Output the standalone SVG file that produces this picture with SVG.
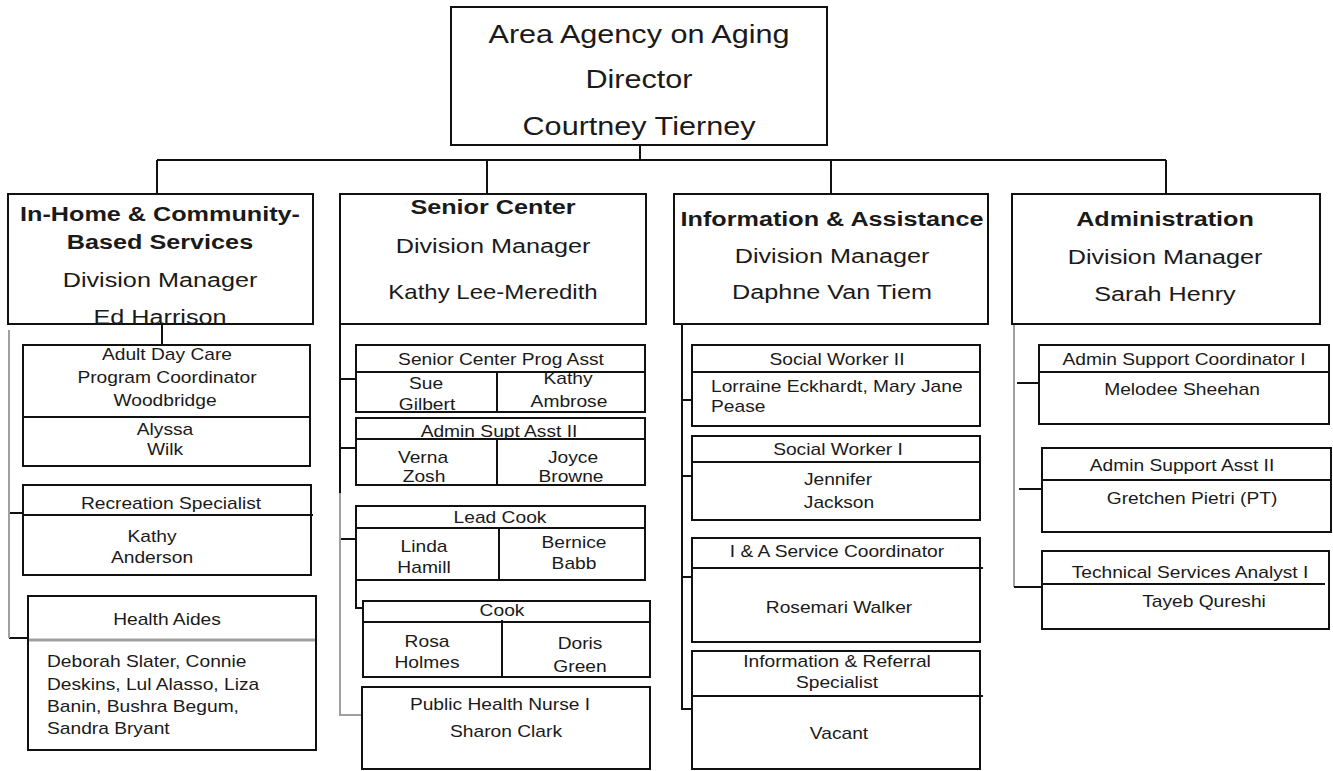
<svg xmlns="http://www.w3.org/2000/svg" width="1333" height="771" viewBox="0 0 1333 771">
<style>
.b{fill:#fff;stroke:#111;stroke-width:2}
.l{fill:none;stroke:#111;stroke-width:2}
.g{fill:none;stroke:#a0a0a0;stroke-width:2}
text{font-family:"Liberation Sans",Arial,sans-serif;font-size:16px;fill:#1a1a1a;text-anchor:middle}
.s{text-anchor:start}
.d{font-size:21px}
.k{font-size:21px;font-weight:bold}
.k20{font-size:20px}
.top{font-size:25.5px}
</style>
<rect width="1333" height="771" fill="#fff"/>
<g id="connectors">
<path class="l" d="M640 145V160M157 160H1166M157 160V194M487 160V194M831 160V194M1166 160V194"/>
<path class="l" d="M162 324V345M9 513H23M9 638H28"/>
<path class="g" d="M9 330V638"/>
<path class="l" d="M340 324V493M340 379H356M340 448H356M340 539H356M356 580V608H363"/>
<path class="g" d="M340 493V715H362"/>
<path class="l" d="M682 324V709H692M682 400H692M682 476H692M682 577H692"/>
<path class="g" d="M1014 324V587"/>
<path class="l" d="M1014 587H1042M1017 383H1039M1019 489H1042"/>
</g>
<g id="director">
<rect class="b" x="451" y="7" width="376" height="138"/>
<text class="top" transform="matrix(1.2 0 0 1 639 43)">Area Agency on Aging</text>
<text class="top" transform="matrix(1.2 0 0 1 639 88)">Director</text>
<text class="top" transform="matrix(1.2 0 0 1 639 135)">Courtney Tierney</text>
</g>
<g id="div-inhome">
<rect class="b" x="8" y="194" width="305" height="130"/>
<text class="k" transform="matrix(1.2 0 0 1 160 221)">In-Home &amp; Community-</text>
<text class="k" transform="matrix(1.2 0 0 1 160 249)">Based Services</text>
<text class="d" transform="matrix(1.2 0 0 1 160 287)">Division Manager</text>
<text class="d" transform="matrix(1.2 0 0 1 160 324)">Ed Harrison</text>
</g>
<g id="div-senior">
<rect class="b" x="340" y="194" width="306" height="130"/>
<text class="k" transform="matrix(1.2 0 0 1 493 214)">Senior Center</text>
<text class="d" transform="matrix(1.2 0 0 1 493 253)">Division Manager</text>
<text class="d k20" transform="matrix(1.2 0 0 1 493 299)">Kathy Lee-Meredith</text>
</g>
<g id="div-info">
<rect class="b" x="674" y="194" width="314" height="130"/>
<text class="k" transform="matrix(1.2 0 0 1 832 226)">Information &amp; Assistance</text>
<text class="d" transform="matrix(1.2 0 0 1 832 263)">Division Manager</text>
<text class="d" transform="matrix(1.2 0 0 1 832 299)">Daphne Van Tiem</text>
</g>
<g id="div-admin">
<rect class="b" x="1012" y="194" width="308" height="130"/>
<text class="k" transform="matrix(1.2 0 0 1 1165 226)">Administration</text>
<text class="d" transform="matrix(1.2 0 0 1 1165 264)">Division Manager</text>
<text class="d" transform="matrix(1.2 0 0 1 1165 301)">Sarah Henry</text>
</g>
<g id="adult-day-care">
<rect class="b" x="23" y="345" width="287" height="121"/>
<path class="l" d="M23 417H310"/>
<text transform="matrix(1.2 0 0 1 167 360)">Adult Day Care</text>
<text transform="matrix(1.2 0 0 1 167 383)">Program Coordinator</text>
<text transform="matrix(1.2 0 0 1 165 406)">Woodbridge</text>
<text transform="matrix(1.2 0 0 1 165 435)">Alyssa</text>
<text transform="matrix(1.2 0 0 1 165 455)">Wilk</text>
</g>
<g id="recreation">
<rect class="b" x="23" y="485" width="288" height="90"/>
<path class="l" d="M23 515H313"/>
<text transform="matrix(1.2 0 0 1 171 509)">Recreation Specialist</text>
<text transform="matrix(1.2 0 0 1 152 542)">Kathy</text>
<text transform="matrix(1.2 0 0 1 152 563)">Anderson</text>
</g>
<g id="health-aides">
<rect class="b" x="28" y="596" width="288" height="154"/>
<path d="M29 640H315" fill="none" stroke="#a0a0a0" stroke-width="3"/>
<text transform="matrix(1.2 0 0 1 167 625)">Health Aides</text>
<text class="s" transform="matrix(1.2 0 0 1 47 667)">Deborah Slater, Connie</text>
<text class="s" transform="matrix(1.2 0 0 1 47 690)">Deskins, Lul Alasso, Liza</text>
<text class="s" transform="matrix(1.2 0 0 1 47 712)">Banin, Bushra Begum,</text>
<text class="s" transform="matrix(1.2 0 0 1 47 734)">Sandra Bryant</text>
</g>
<g id="sc-prog-asst">
<rect class="b" x="356" y="345" width="289" height="67"/>
<path class="l" d="M356 372H645M497 372V412"/>
<text transform="matrix(1.2 0 0 1 501 365)">Senior Center Prog Asst</text>
<text transform="matrix(1.2 0 0 1 426 389)">Sue</text>
<text transform="matrix(1.2 0 0 1 427 410)">Gilbert</text>
<text transform="matrix(1.2 0 0 1 568 384)">Kathy</text>
<text transform="matrix(1.2 0 0 1 569 407)">Ambrose</text>
</g>
<g id="admin-supt-asst">
<rect class="b" x="356" y="418" width="289" height="67"/>
<path class="l" d="M356 439H645M497 439V485"/>
<text transform="matrix(1.2 0 0 1 499 437)">Admin Supt Asst II</text>
<text transform="matrix(1.2 0 0 1 423 463)">Verna</text>
<text transform="matrix(1.2 0 0 1 424 482)">Zosh</text>
<text transform="matrix(1.2 0 0 1 573 463)">Joyce</text>
<text transform="matrix(1.2 0 0 1 571 482)">Browne</text>
</g>
<g id="lead-cook">
<rect class="b" x="356" y="506" width="289" height="74"/>
<path class="l" d="M356 528H645M499 528V580"/>
<text transform="matrix(1.2 0 0 1 500 523)">Lead Cook</text>
<text transform="matrix(1.2 0 0 1 424 552)">Linda</text>
<text transform="matrix(1.2 0 0 1 424 573)">Hamill</text>
<text transform="matrix(1.2 0 0 1 574 548)">Bernice</text>
<text transform="matrix(1.2 0 0 1 574 569)">Babb</text>
</g>
<g id="cook">
<rect class="b" x="363" y="601" width="287" height="76"/>
<path class="l" d="M363 622H650M502 620V677"/>
<text transform="matrix(1.2 0 0 1 502 616)">Cook</text>
<text transform="matrix(1.2 0 0 1 427 647)">Rosa</text>
<text transform="matrix(1.2 0 0 1 427 668)">Holmes</text>
<text transform="matrix(1.2 0 0 1 580 649)">Doris</text>
<text transform="matrix(1.2 0 0 1 580 672)">Green</text>
</g>
<g id="public-health-nurse">
<rect class="b" x="362" y="687" width="288" height="82"/>
<text transform="matrix(1.2 0 0 1 500 710)">Public Health Nurse I</text>
<text transform="matrix(1.2 0 0 1 506 737)">Sharon Clark</text>
</g>
<g id="social-worker-2">
<rect class="b" x="692" y="345" width="288" height="81"/>
<path class="l" d="M692 372H980"/>
<text transform="matrix(1.2 0 0 1 837 365)">Social Worker II</text>
<text class="s" transform="matrix(1.2 0 0 1 711 392)">Lorraine Eckhardt, Mary Jane</text>
<text class="s" transform="matrix(1.2 0 0 1 711 412)">Pease</text>
</g>
<g id="social-worker-1">
<rect class="b" x="692" y="436" width="288" height="84"/>
<path class="l" d="M692 462H980"/>
<text transform="matrix(1.2 0 0 1 838 455)">Social Worker I</text>
<text transform="matrix(1.2 0 0 1 838 485)">Jennifer</text>
<text transform="matrix(1.2 0 0 1 839 508)">Jackson</text>
</g>
<g id="ia-service-coord">
<rect class="b" x="692" y="538" width="288" height="104"/>
<path class="l" d="M692 568H983"/>
<text transform="matrix(1.2 0 0 1 837 557)">I &amp; A Service Coordinator</text>
<text transform="matrix(1.2 0 0 1 839 613)">Rosemari Walker</text>
</g>
<g id="info-referral">
<rect class="b" x="692" y="651" width="288" height="118"/>
<path class="l" d="M692 696H983"/>
<text transform="matrix(1.2 0 0 1 837 667)">Information &amp; Referral</text>
<text transform="matrix(1.2 0 0 1 837 688)">Specialist</text>
<text transform="matrix(1.2 0 0 1 839 739)">Vacant</text>
</g>
<g id="admin-support-coord">
<rect class="b" x="1039" y="345" width="290" height="79"/>
<path class="l" d="M1039 372H1329"/>
<text transform="matrix(1.2 0 0 1 1184 365)">Admin Support Coordinator I</text>
<text transform="matrix(1.2 0 0 1 1182 395)">Melodee Sheehan</text>
</g>
<g id="admin-support-asst">
<rect class="b" x="1042" y="448" width="289" height="84"/>
<path class="l" d="M1042 480H1331"/>
<text transform="matrix(1.2 0 0 1 1182 471)">Admin Support Asst II</text>
<text transform="matrix(1.2 0 0 1 1192 504)">Gretchen Pietri (PT)</text>
</g>
<g id="tech-services">
<rect class="b" x="1042" y="551" width="287" height="78"/>
<path class="l" d="M1042 584H1325"/>
<text transform="matrix(1.2 0 0 1 1190 578)">Technical Services Analyst I</text>
<text transform="matrix(1.2 0 0 1 1204 607)">Tayeb Qureshi</text>
</g>
</svg>
